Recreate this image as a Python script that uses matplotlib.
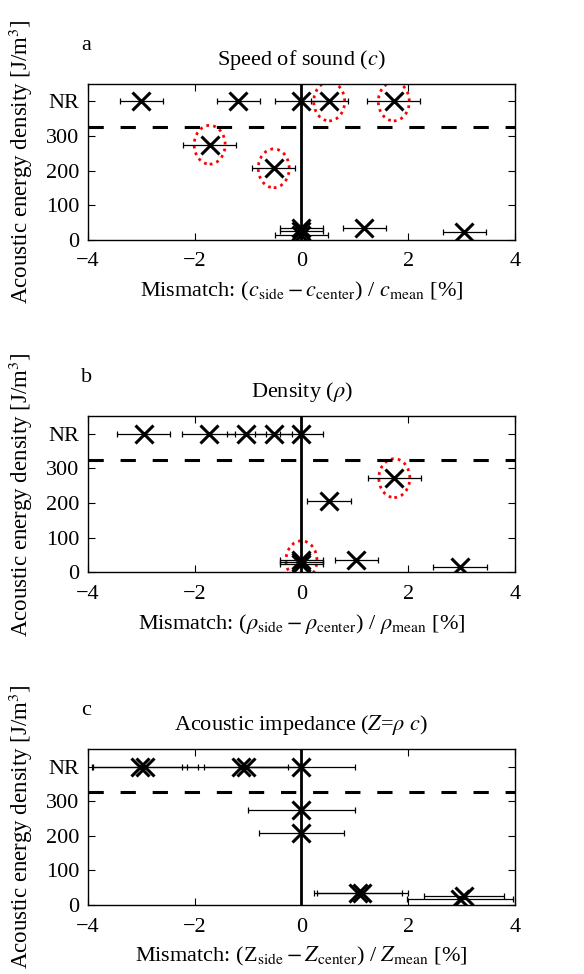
import numpy as np
import matplotlib
matplotlib.use('Agg')
import matplotlib.pyplot as plt
from matplotlib.patches import Ellipse

plt.rcParams['font.family'] = ['Liberation Serif', 'DejaVu Serif']
plt.rcParams['mathtext.fontset'] = 'stix'

# panel a: speed of sound
a_x = [-3.0, -1.18, 0.0, 0.52, 1.73, -1.72, -0.52, 0.0, 0.0, 0.0, 1.18, 3.05]
a_y = [400, 400, 400, 400, 400, 275, 207, 35, 25, 15, 35, 23]
a_err = [0.4, 0.4, 0.5, 0.35, 0.5, 0.5, 0.4, 0.4, 0.4, 0.5, 0.4, 0.4]
a_circ = [0, 0, 0, 1, 1, 1, 1, 0, 0, 0, 0, 0]

# panel b: density
b_x = [-2.96, -1.74, -1.03, -0.52, 0.0, 1.74, 0.52, 0.0, 0.0, 0.0, 1.03, 2.97]
b_y = [400, 400, 400, 400, 400, 272, 207, 35, 30, 25, 35, 14]
b_err = [0.5, 0.5, 0.37, 0.35, 0.4, 0.5, 0.41, 0.4, 0.4, 0.4, 0.4, 0.5]
b_circ = [0, 0, 0, 0, 0, 1, 0, 1, 0, 0, 0, 0]

# panel c: acoustic impedance
c_x = [-3.02, -2.93, -1.14, -1.04, 0.0, 0.0, 0.0, 1.06, 1.14, 2.97, 3.05]
c_y = [400, 400, 400, 400, 400, 275, 207, 35, 35, 16, 26]
c_err = [0.88, 1.0, 1.1, 0.78, 1.0, 1.0, 0.8, 0.82, 0.85, 1.0, 0.75]
c_circ = [0] * 11

yticks = [0, 100, 200, 300, 400]
yticklabels = ['0', '100', '200', '300', 'NR']
xticks = [-4, -2, 0, 2, 4]
nr_line = 325

panels = [
    ('a', 'Speed of sound ($c$)',
     r'Mismatch: ($c_{\rm side}-c_{\rm center}$) / $c_{\rm mean}$ [%]',
     a_x, a_y, a_err, a_circ),
    ('b', r'Density ($\rho$)',
     r'Mismatch: ($\rho_{\rm side}-\rho_{\rm center}$) / $\rho_{\rm mean}$ [%]',
     b_x, b_y, b_err, b_circ),
    ('c', r'Acoustic impedance ($Z$=$\rho$ $c$)',
     r'Mismatch: (Z$_{\rm side}-Z_{\rm center}$) / $Z_{\rm mean}$ [%]',
     c_x, c_y, c_err, c_circ),
]
bottoms = [0.7536, 0.4124, 0.0708]

fig = plt.figure(figsize=(5.84, 9.74), dpi=100)

for (lab, title, xlab, xs, ys, errs, circ), bot in zip(panels, bottoms):
    ax = fig.add_axes([0.1507, bot, 0.731, 0.160])
    ax.axvline(0, color='k', lw=2)
    ax.axhline(nr_line, color='k', lw=2.2, ls=(0, (5, 5.5)))
    ax.errorbar(xs, ys, xerr=errs, fmt='none', ecolor='k', elinewidth=0.9,
                capsize=2, capthick=0.9)
    ax.plot(xs, ys, 'kx', ms=13, mew=2.2)
    for xv, yv, cf in zip(xs, ys, circ):
        if cf:
            ax.add_patch(Ellipse((xv, yv), 0.58, 112, fill=False, ec='red',
                                 lw=2, ls=(0, (1, 1.5))))
    ax.set_xlim(-4, 4)
    ax.set_ylim(0, 450)
    ax.set_xticks(xticks)
    ax.set_xticklabels([str(t).replace('-', '\u2212') for t in xticks])
    ax.set_yticks(yticks)
    ax.set_yticklabels(yticklabels)
    ax.tick_params(direction='in', top=True, right=True, labelsize=16,
                   length=5, width=0.8)
    ax.tick_params(axis='x', pad=9)
    ax.tick_params(axis='y', pad=6)
    for s in ax.spines.values():
        s.set_linewidth(1)
    ax.set_title(title, fontsize=16, pad=14)
    ax.set_xlabel(xlab, fontsize=16, labelpad=6)
    ax.set_ylabel('Acoustic energy density [J/m$^3$]', fontsize=16.5)
    ax.yaxis.set_label_coords(-0.124, 0.5)
    ax.text(-0.017, 1.22, lab, transform=ax.transAxes, fontsize=16)

fig.savefig('out.png', dpi=100)
